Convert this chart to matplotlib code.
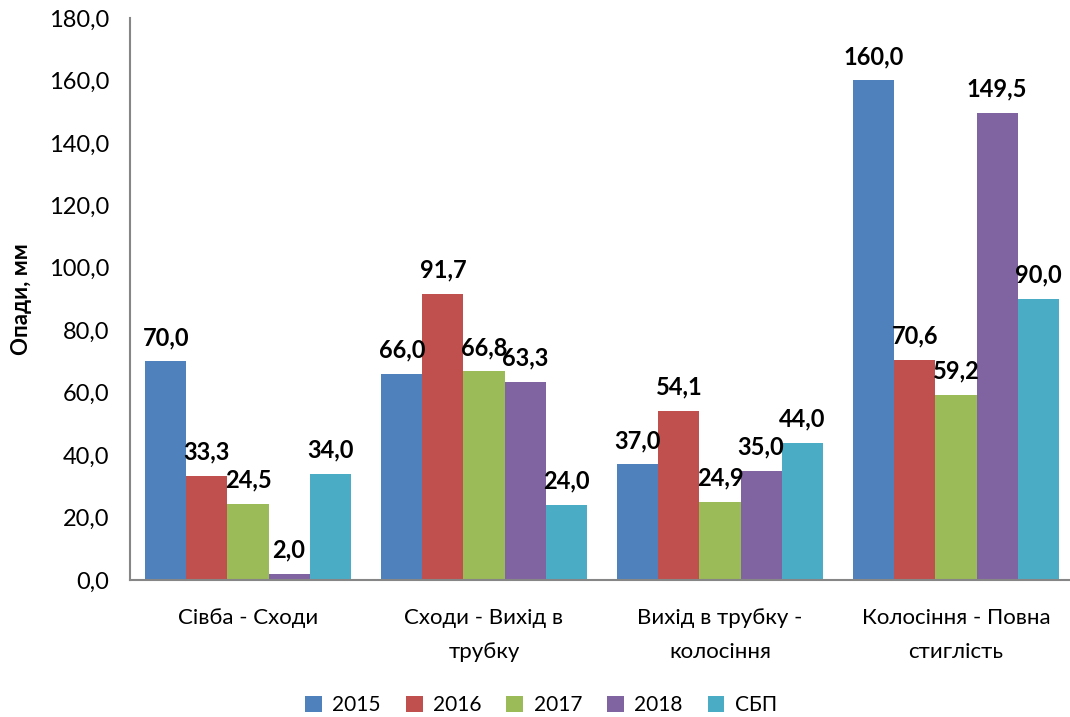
import matplotlib
matplotlib.use("Agg")
import matplotlib.pyplot as plt
import numpy as np

categories = ["Сівба - Сходи", "Сходи - Вихід в\nтрубку", "Вихід в трубку -\nколосіння", "Колосіння - Повна\nстиглість"]
series_names = ["2015", "2016", "2017", "2018", "СБП"]
v2015 = [70.0, 66.0, 37.0, 160.0]
v2016 = [33.3, 91.7, 54.1, 70.6]
v2017 = [24.5, 66.8, 24.9, 59.2]
v2018 = [2.0, 63.3, 35.0, 149.5]
vsbp = [34.0, 24.0, 44.0, 90.0]
series_values = [v2015, v2016, v2017, v2018, vsbp]
colors = ["#4F81BD", "#C0504D", "#9BBB59", "#8064A2", "#4BACC6"]
yticks = [0, 20, 40, 60, 80, 100, 120, 140, 160, 180]

plt.rcParams['font.family'] = ['Lato', 'DejaVu Sans']

W, H = 1070, 717
fig = plt.figure(figsize=(W / 100, H / 100), dpi=100)
ax = fig.add_axes([130 / W, (H - 580) / H, 944 / W, (580 - 18) / H])

x = np.arange(len(categories))
bw = 0.174
n = len(series_names)
for i, (name, vals, c) in enumerate(zip(series_names, series_values, colors)):
    pos = x + (i - (n - 1) / 2) * bw
    bars = ax.bar(pos, vals, width=bw, color=c, label=name, zorder=2)
    for b, v in zip(bars, vals):
        ax.annotate(f"{v:.1f}".replace('.', ','), (b.get_x() + b.get_width() / 2, v),
                    xytext=(0, 9), textcoords="offset points", ha="center", va="bottom",
                    fontsize=17, fontweight="bold", color="black")

ax.set_xlim(-0.5, len(categories) - 0.5)
ax.set_ylim(0, 180)
ax.set_yticks(yticks)
ax.set_yticklabels([f"{t:.1f}".replace('.', ',') for t in yticks], fontsize=17)
ax.set_xticks(x)
ax.set_xticklabels(categories, fontsize=16, linespacing=1.9)
ax.tick_params(axis='both', length=0)
ax.tick_params(axis='x', pad=20)
ax.tick_params(axis='y', pad=15)
for s in ["top", "right"]:
    ax.spines[s].set_visible(False)
for s in ["left", "bottom"]:
    ax.spines[s].set_color("#868686")
    ax.spines[s].set_linewidth(1.5)

ax.set_ylabel("Опади, мм", fontsize=16, fontweight="bold", labelpad=12)

fig.legend(loc="center", bbox_to_anchor=(541 / W, 1 - 705 / H), ncol=5, frameon=False,
           fontsize=15, handlelength=0.8, handleheight=0.8, columnspacing=1.2, handletextpad=0.5)

fig.savefig("out.png", dpi=100)
